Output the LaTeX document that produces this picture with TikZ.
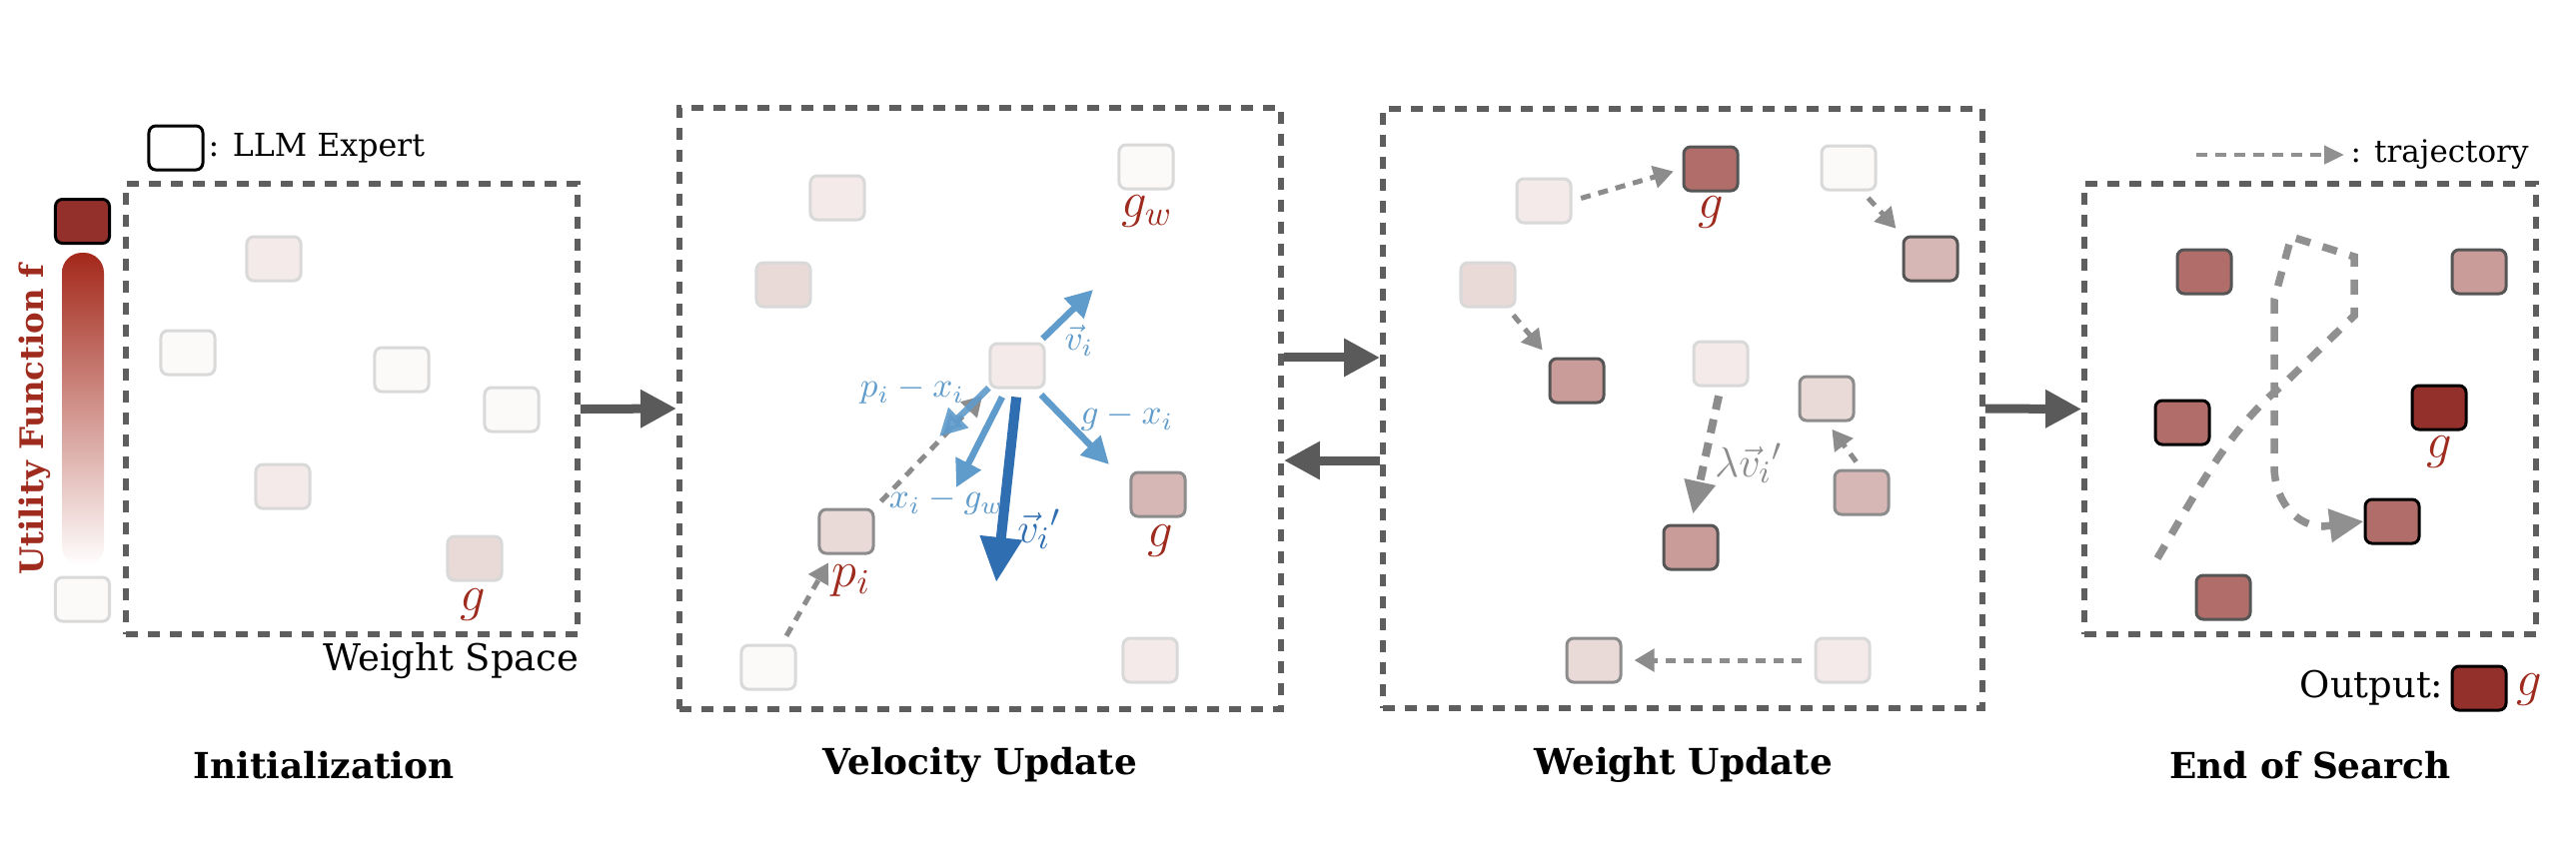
\documentclass[tikz,border=0pt]{standalone}
\usepackage{fontspec}
\setmainfont{DejaVu Serif}
\usetikzlibrary{arrows.meta}
\definecolor{cf0}{HTML}{FCFAF9}
\definecolor{cf1}{HTML}{F3EAE9}
\definecolor{cf2}{HTML}{E9D9D7}
\definecolor{cf3}{HTML}{D7B7B5}
\definecolor{cf4}{HTML}{C99C9A}
\definecolor{cf5}{HTML}{B16D69}
\definecolor{cf6}{HTML}{93302B}
\definecolor{bl}{HTML}{D9D9D9}
\definecolor{bm}{HTML}{8C8C8C}
\definecolor{bd}{HTML}{555555}
\definecolor{framec}{HTML}{5E5E5E}
\definecolor{arrgrey}{HTML}{5A5A5A}
\definecolor{lblue}{HTML}{5F9BCB}
\definecolor{dblue}{HTML}{2F6FB1}
\definecolor{redtxt}{HTML}{9E2B1E}
\definecolor{cbtop}{HTML}{A3281A}
\definecolor{trajc}{HTML}{909090}
\begin{document}
\begin{tikzpicture}[x=0.01cm,y=-0.01cm,
  sqbase/.style={rectangle, rounded corners=0.07cm, minimum width=0.54cm, minimum height=0.44cm, inner sep=0pt, line width=0.03cm},
  sq0/.style={sqbase, fill=cf0, draw=bl},
  sq1/.style={sqbase, fill=cf1, draw=bl},
  sq2/.style={sqbase, fill=cf2, draw=bl},
  sq2m/.style={sqbase, fill=cf2, draw=bm},
  sq3m/.style={sqbase, fill=cf3, draw=bm},
  sq3d/.style={sqbase, fill=cf3, draw=bd},
  sq4d/.style={sqbase, fill=cf4, draw=bd},
  sq5d/.style={sqbase, fill=cf5, draw=bd},
  sq5k/.style={sqbase, fill=cf5, draw=black},
  sq6k/.style={sqbase, fill=cf6, draw=black},
  sqleg/.style={sqbase, fill=white, draw=black},
  panel/.style={rectangle, draw=framec, line width=0.055cm, dash pattern=on 0.12cm off 0.1cm, inner sep=0pt},
  bigarrow/.style={draw=arrgrey, line width=0.09cm, -{Triangle[length=0.36cm,width=0.36cm]}},
  gdash/.style={draw=bm, line width=0.05cm, dash pattern=on 0.1cm off 0.08cm, -{Triangle[length=0.2cm,width=0.22cm]}, shorten <=0.09cm, shorten >=0.09cm},
  lamarrow/.style={draw=bm, line width=0.08cm, dash pattern=on 0.14cm off 0.1cm, -{Triangle[length=0.33cm,width=0.3cm]}, shorten <=0.09cm, shorten >=0.1cm},
  trajarrow/.style={draw=trajc, line width=0.075cm, dash pattern=on 0.15cm off 0.13cm, -{Triangle[length=0.34cm,width=0.32cm]}},
  legarrow/.style={draw=trajc, line width=0.045cm, dash pattern=on 0.11cm off 0.08cm, -{Triangle[length=0.2cm,width=0.18cm]}},
  barrow/.style={draw=lblue, line width=0.065cm, -{Triangle[length=0.27cm,width=0.27cm]}},
  vparrow/.style={draw=dblue, line width=0.1cm, -{Triangle[length=0.45cm,width=0.4cm]}},
  glab/.style={text=redtxt, inner sep=0pt, font=\fontsize{14}{16}\selectfont},
  blab/.style={text=lblue, inner sep=0pt, font=\fontsize{10}{12}\selectfont},
  dlab/.style={text=dblue, inner sep=0pt, font=\fontsize{12.5}{14}\selectfont},
  grlab/.style={text=bm, inner sep=0pt, font=\fontsize{12.5}{14}\selectfont},
  ttl/.style={font=\bfseries\fontsize{10.2}{12}\selectfont, inner sep=0pt},
  txt/.style={font=\fontsize{10.5}{12}\selectfont, inner sep=0pt}
]
\useasboundingbox[fill=white] (0,0) rectangle (2578,856);

% ---------- panels ----------
\node[panel, minimum width=4.52cm, minimum height=4.51cm] (P1) at (352,409.5) {};
\node[panel, minimum width=6.02cm, minimum height=6.02cm] (P2) at (981,409) {};
\node[panel, minimum width=6.00cm, minimum height=6.00cm] (P3) at (1684,409) {};
\node[panel, minimum width=4.52cm, minimum height=4.51cm] (P4) at (2312,409.5) {};

\draw[bigarrow] (P1.east) -- (P2.west);
\draw[bigarrow] ([yshift=0.51cm]P2.east) -- ([yshift=0.51cm]P3.west);
\draw[bigarrow] ([yshift=-0.52cm]P3.west) -- ([yshift=-0.52cm]P2.east);
\draw[bigarrow] (P3.east) -- (P4.west);

% ---------- panel 1 ----------
\node[sqleg] (leg) at (176,148) {};
\node[anchor=west, inner sep=1pt, font=\fontsize{9}{11}\selectfont] (legt) at (leg.east) {: LLM Expert};
\node[sq6k] (ctop) at (82.5,221.5) {};
\shade[top color=cbtop, bottom color=white, rounded corners=0.2cm] (62,253) rectangle (104,567);
\node[sq0] (cbot) at (82.5,600) {};
\node[rotate=90, text=redtxt, inner sep=0pt, font=\bfseries\fontsize{9.2}{11}\selectfont] (util) at (35,420) {Utility Function f};

\node[sq1] (a1) at (274,259) {};
\node[sq0] (a2) at (188,353) {};
\node[sq0] (a3) at (402,370) {};
\node[sq0] (a4) at (512,410) {};
\node[sq1] (a5) at (283,487) {};
\node[sq2] (a6) at (475,559) {};
\node[glab] (ga6) at (473,605) {$g$};
\node[txt, anchor=east] (ws) at (580,662) {Weight Space};

% ---------- panel 2 ----------
\node[sq1] (s1) at (838,198) {};
\node[sq2] (s2) at (784,285) {};
\node[sq0] (gw) at (1147,167) {};
\node[glab] (lgw) at (1148,212) {$g_w$};
\node[sq1] (xi) at (1018,366) {};
\node[sq2m] (pi) at (847,532) {};
\node[glab] (lpi) at (852,581) {$p_i$};
\node[sq3m] (g2) at (1159,495) {};
\node[glab] (lg2) at (1161,541) {$g$};
\node[sq0] (s7) at (769,668) {};
\node[sq1] (s8) at (1151,661) {};

\draw[gdash] (s7.60) -- (pi.-120);
\draw[gdash] (pi.north east) -- (xi.south west);

\coordinate (ve) at (1094,290);
\coordinate (pe) at (940,437);
\coordinate (we) at (957,488);
\coordinate (vpe) at (997,583);
\coordinate (ge) at (1110,465);
\draw[barrow, shorten <=0.05cm] (xi.47) -- (ve);
\draw[barrow, opacity=0.9] (xi.-142) -- (pe);
\draw[barrow, shorten <=0.09cm] (xi.-115) -- (we);
\draw[barrow, shorten <=0.08cm] (xi.-52) -- (ge);
\draw[vparrow, shorten <=0.08cm] (xi.south) -- (vpe);
\node[blab] (lvi) at (1080,341) {$\vec{v}_i$};
\node[blab] (lpx) at (913,391) {$p_i - x_i$};
\node[blab] (lxg) at (947,502) {$x_i - g_w$};
\node[blab] (lgx) at (1128,418) {$g - x_i$};
\node[dlab] (lvp) at (1040,530) {$\vec{v}_i{}'$};

% ---------- panel 3 ----------
\node[sq1] (t1) at (1545,201) {};
\node[sq5d] (t2) at (1712,169) {};
\node[glab] (lt2) at (1712,213) {$g$};
\node[sq0] (t3) at (1850,168) {};
\node[sq3d] (t4) at (1932,259) {};
\node[sq2] (t5) at (1489,285) {};
\node[sq4d] (t6) at (1578,381) {};
\node[sq1] (t7) at (1722,364) {};
\node[sq2m] (t8) at (1828,399) {};
\node[sq3m] (t9) at (1863,493) {};
\node[sq4d] (t10) at (1692,548) {};
\node[sq2m] (t11) at (1595,661) {};
\node[sq1] (t12) at (1844,661) {};

\draw[gdash] (t1.east) -- (t2.west);
\draw[gdash] (t3.-60) -- (t4.north west);
\draw[gdash] (t5.-50) -- (t6.north west);
\draw[gdash] (t9.north) -- (t8.south);
\draw[gdash, shorten <=0.12cm, shorten >=0.12cm] (t12.west) -- (t11.east);
\draw[lamarrow] (t7.south) -- (t10.north);
\node[grlab] (llam) at (1750,464) {$\lambda\vec{v}_i{}'$};

% ---------- panel 4 ----------
\coordinate (tl1) at (2198,155);
\coordinate (tl2) at (2346,155);
\draw[legarrow] (tl1) -- (tl2);
\node[anchor=west, inner sep=0pt, font=\fontsize{8.8}{11}\selectfont] (trajt) at (2352,155) {: trajectory};

\node[sq5d] (u1) at (2206,272) {};
\node[sq4d] (u2) at (2481,272) {};
\node[sq5k] (u3) at (2184,423) {};
\node[sq6k] (u4) at (2441,408) {};
\node[glab] (lu4) at (2441,453) {$g$};
\node[sq5k] (u5) at (2394,522) {};
\node[sq5d] (u6) at (2225,598) {};

\coordinate (ts) at (2159,559);
\draw[trajarrow] (ts) .. controls (2200,490) and (2230,430) .. (2285,385) -- (2356,316) -- (2356,257) -- (2293,237) -- (2276,300) -- (2276,470) .. controls (2278,505) and (2300,527) .. (2325,527) -- (u5.west);

\node[sq6k] (out) at (2481,689) {};
\node[txt, anchor=east] (outt) at (2446,689) {Output:};
\node[glab] (lout) at (2531,690) {$g$};

% ---------- titles ----------
\node[ttl] (T1) at (324,766) {Initialization};
\node[ttl] (T2) at (981,766) {Velocity Update};
\node[ttl] (T3) at (1685,766) {Weight Update};
\node[ttl] (T4) at (2312,766) {End of Search};
\end{tikzpicture}
\end{document}
